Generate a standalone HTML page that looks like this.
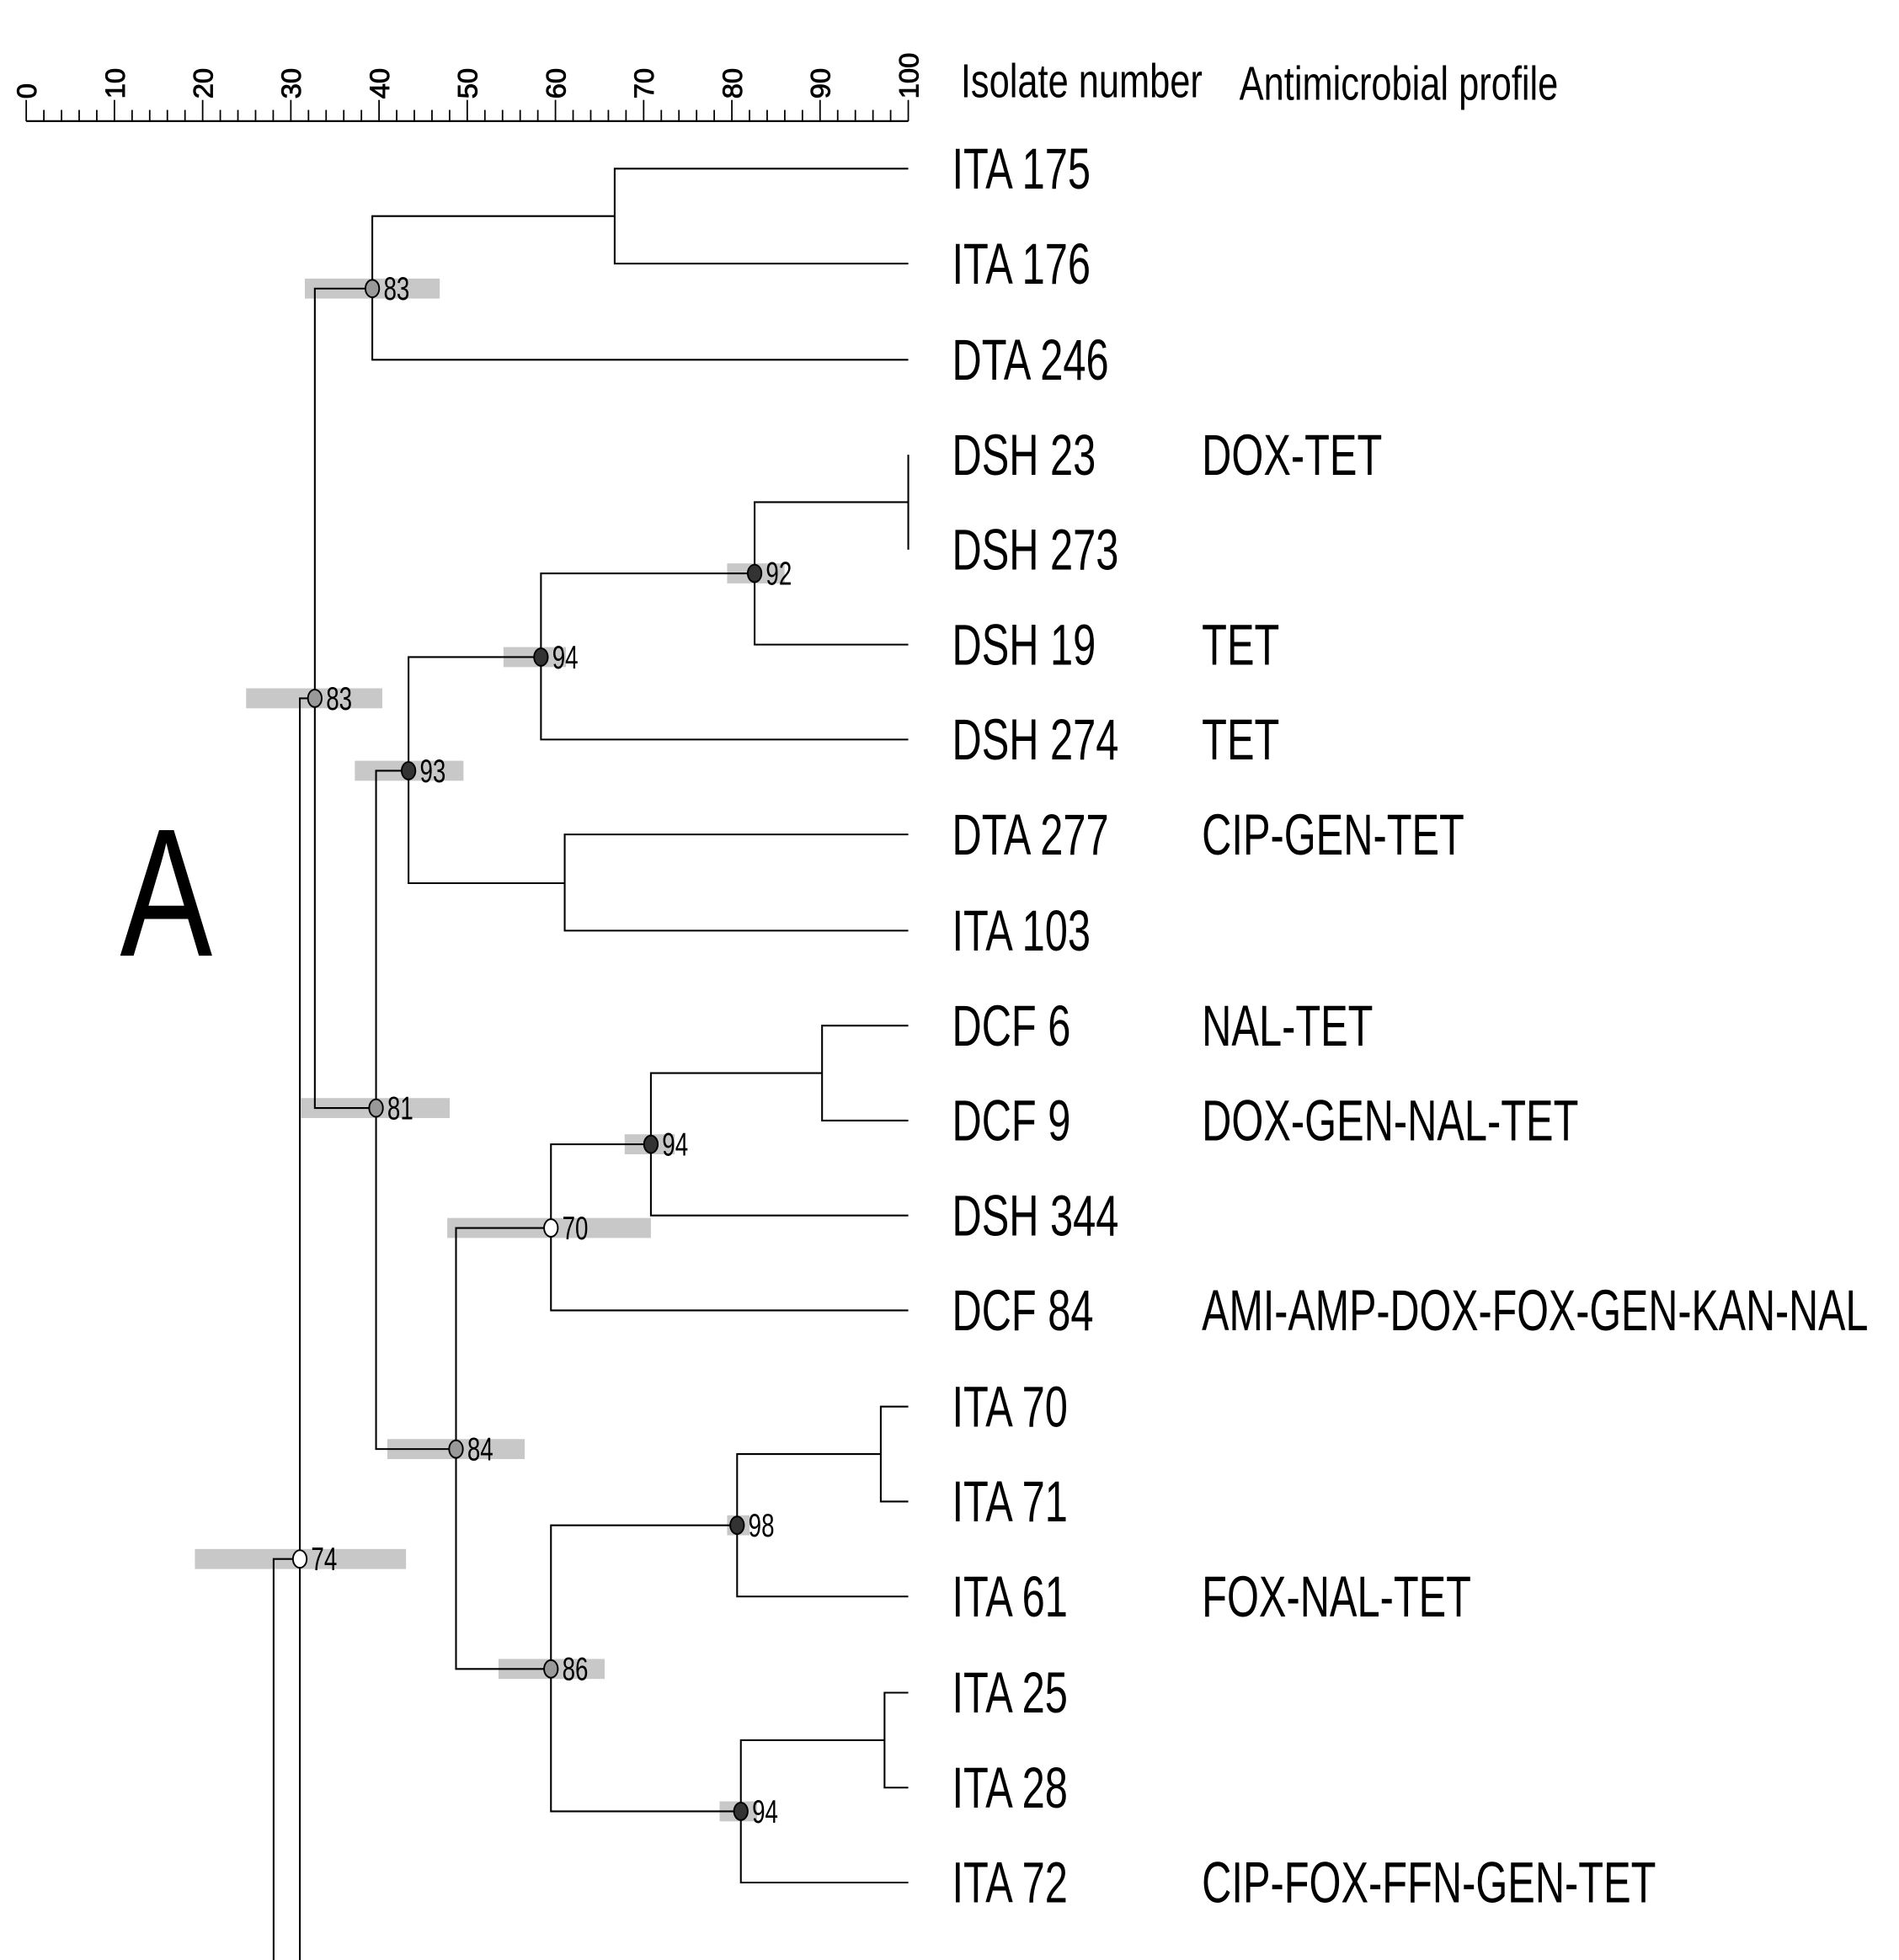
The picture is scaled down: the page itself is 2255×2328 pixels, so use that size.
<!DOCTYPE html>
<html><head><meta charset="utf-8"><style>
html,body{margin:0;padding:0;background:#fff;}
svg{display:block;}
text{font-family:"Liberation Sans",Arial,sans-serif;fill:#000;}
</style></head><body>
<svg width="2255" height="2328" viewBox="0 0 1520 1569" preserveAspectRatio="none" xmlns="http://www.w3.org/2000/svg">
<rect width="1520" height="1569" fill="#fff"/>
<g stroke="#000" stroke-width="1.5">
<line x1="21" y1="97" x2="727" y2="97"/>
</g>
<g id="ticks" stroke="#000" stroke-width="1.2"></g>
<g id="axlab" font-size="22" stroke="#000" stroke-width="0.6"></g>
<text transform="translate(769,78) scale(0.77,1)" font-size="38">Isolate number</text>
<text transform="translate(992,80) scale(0.77,1)" font-size="38">Antimicrobial profile</text>
<text transform="translate(96,765) scale(0.76,1)" font-size="146">A</text>
<g fill="#c8c8c8">
<rect x="244" y="223" width="108" height="16"/>
<rect x="197" y="551" width="109" height="16"/>
<rect x="582" y="451" width="46" height="16"/>
<rect x="403" y="518" width="50" height="16"/>
<rect x="284" y="609" width="87" height="16"/>
<rect x="241" y="879" width="119" height="16"/>
<rect x="500" y="908" width="40" height="16"/>
<rect x="358" y="975" width="163" height="16"/>
<rect x="310" y="1152" width="110" height="16"/>
<rect x="582" y="1213" width="18" height="16"/>
<rect x="399" y="1328" width="85" height="16"/>
<rect x="576" y="1442" width="30" height="16"/>
<rect x="156" y="1240" width="169" height="16"/>
</g>
<g stroke="#000" stroke-width="1.4" fill="none">
<path d="M727 135H492V211H727"/>
<path d="M492 173H298V288H727"/>
<path d="M727 364V440"/>
<path d="M727 402H604V516H727"/>
<path d="M604 459H433V592H727"/>
<path d="M727 668H452V745H727"/>
<path d="M433 526H327V707H452"/>
<path d="M727 821H658V897H727"/>
<path d="M658 859H521V973H727"/>
<path d="M521 916H441V1049H727"/>
<path d="M727 1126H705V1202H727"/>
<path d="M705 1164H590V1278H727"/>
<path d="M727 1355H708V1431H727"/>
<path d="M708 1393H593V1507H727"/>
<path d="M590 1221H441V1450H593"/>
<path d="M441 983H365V1336H441"/>
<path d="M327 617H301V1160H365"/>
<path d="M298 231H252V887H301"/>
<path d="M252 559H240V1569"/>
<path d="M240 1248H219V1569"/>
</g>
<g stroke="#000" stroke-width="1.3">
<ellipse cx="298" cy="231" rx="5.5" ry="7" fill="#999"/>
<ellipse cx="252" cy="559" rx="5.5" ry="7" fill="#999"/>
<ellipse cx="604" cy="459" rx="5.5" ry="7" fill="#333"/>
<ellipse cx="433" cy="526" rx="5.5" ry="7" fill="#333"/>
<ellipse cx="327" cy="617" rx="5.5" ry="7" fill="#333"/>
<ellipse cx="301" cy="887" rx="5.5" ry="7" fill="#999"/>
<ellipse cx="521" cy="916" rx="5.5" ry="7" fill="#333"/>
<ellipse cx="441" cy="983" rx="5.5" ry="7" fill="#fff"/>
<ellipse cx="365" cy="1160" rx="5.5" ry="7" fill="#999"/>
<ellipse cx="590" cy="1221" rx="5.5" ry="7" fill="#333"/>
<ellipse cx="441" cy="1336" rx="5.5" ry="7" fill="#999"/>
<ellipse cx="593" cy="1450" rx="5.5" ry="7" fill="#333"/>
<ellipse cx="240" cy="1248" rx="5.5" ry="7" fill="#fff"/>
</g>
<g font-size="26">
<text transform="translate(307,240) scale(0.72,1)">83</text>
<text transform="translate(261,568) scale(0.72,1)">83</text>
<text transform="translate(613,468) scale(0.72,1)">92</text>
<text transform="translate(442,535) scale(0.72,1)">94</text>
<text transform="translate(336,626) scale(0.72,1)">93</text>
<text transform="translate(310,896) scale(0.72,1)">81</text>
<text transform="translate(530,925) scale(0.72,1)">94</text>
<text transform="translate(450,992) scale(0.72,1)">70</text>
<text transform="translate(374,1169) scale(0.72,1)">84</text>
<text transform="translate(599,1230) scale(0.72,1)">98</text>
<text transform="translate(450,1345) scale(0.72,1)">86</text>
<text transform="translate(602,1459) scale(0.72,1)">94</text>
<text transform="translate(249,1257) scale(0.72,1)">74</text>
</g>
<g font-size="46">
<text transform="translate(762,151) scale(0.715,1)">ITA 175</text>
<text transform="translate(762,227) scale(0.715,1)">ITA 176</text>
<text transform="translate(762,304) scale(0.715,1)">DTA 246</text>
<text transform="translate(762,380) scale(0.715,1)">DSH 23</text>
<text transform="translate(762,456) scale(0.715,1)">DSH 273</text>
<text transform="translate(762,532) scale(0.715,1)">DSH 19</text>
<text transform="translate(762,608) scale(0.715,1)">DSH 274</text>
<text transform="translate(762,684) scale(0.715,1)">DTA 277</text>
<text transform="translate(762,761) scale(0.715,1)">ITA 103</text>
<text transform="translate(762,837) scale(0.715,1)">DCF 6</text>
<text transform="translate(762,913) scale(0.715,1)">DCF 9</text>
<text transform="translate(762,989) scale(0.715,1)">DSH 344</text>
<text transform="translate(762,1065) scale(0.715,1)">DCF 84</text>
<text transform="translate(762,1142) scale(0.715,1)">ITA 70</text>
<text transform="translate(762,1218) scale(0.715,1)">ITA 71</text>
<text transform="translate(762,1294) scale(0.715,1)">ITA 61</text>
<text transform="translate(762,1371) scale(0.715,1)">ITA 25</text>
<text transform="translate(762,1447) scale(0.715,1)">ITA 28</text>
<text transform="translate(762,1523) scale(0.715,1)">ITA 72</text>
<text transform="translate(962,380) scale(0.715,1)">DOX-TET</text>
<text transform="translate(962,532) scale(0.715,1)">TET</text>
<text transform="translate(962,608) scale(0.715,1)">TET</text>
<text transform="translate(962,684) scale(0.715,1)">CIP-GEN-TET</text>
<text transform="translate(962,837) scale(0.715,1)">NAL-TET</text>
<text transform="translate(962,913) scale(0.715,1)">DOX-GEN-NAL-TET</text>
<text transform="translate(962,1065) scale(0.71,1)">AMI-AMP-DOX-FOX-GEN-KAN-NAL</text>
<text transform="translate(962,1294) scale(0.715,1)">FOX-NAL-TET</text>
<text transform="translate(962,1523) scale(0.715,1)">CIP-FOX-FFN-GEN-TET</text>
</g>
<script>
(function(){
var ns="http://www.w3.org/2000/svg";
var t=document.getElementById("ticks"),a=document.getElementById("axlab");
for(var i=0;i<=50;i++){
 var x=21+i*706/50;
 var l=document.createElementNS(ns,"line");
 l.setAttribute("x1",x);l.setAttribute("x2",x);
 l.setAttribute("y1",97);l.setAttribute("y2",i%5==0?80:88);
 t.appendChild(l);
 if(i%5==0){
  var tx=document.createElementNS(ns,"text");
  tx.setAttribute("transform","translate("+(x+8)+",79) rotate(-90)");
  tx.textContent=String(i*2);
  a.appendChild(tx);
 }
}
})();
</script>
</svg>
</body></html>
